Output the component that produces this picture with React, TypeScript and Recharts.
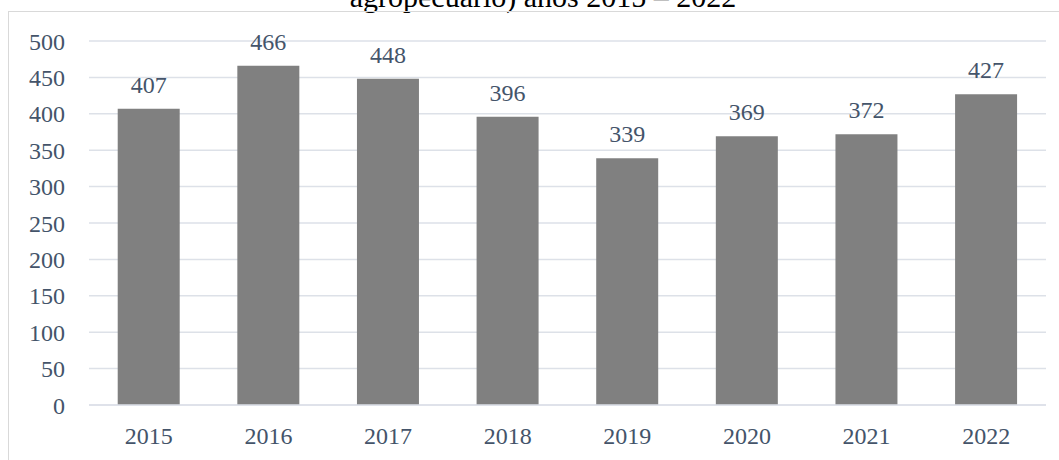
import { Bar, BarChart, CartesianGrid, LabelList, XAxis, YAxis } from "recharts";

const years = ["2015", "2016", "2017", "2018", "2019", "2020", "2021", "2022"];
const values = [407, 466, 448, 396, 339, 369, 372, 427];
const yTicks = [0, 50, 100, 150, 200, 250, 300, 350, 400, 450, 500];

const TEXT = "#44546a";
const FONT = "'Liberation Serif', 'Times New Roman', serif";
const FS = 24;

const rows = years.map((year, i) => ({ year, value: values[i] }));

export default function App() {
  return (
    <div
      style={{
        position: "fixed",
        top: 0,
        left: 0,
        width: 1059,
        height: 460,
        overflow: "hidden",
        background: "#fff",
        fontFamily: FONT,
      }}
    >
      {/* título recortado arriba, como en la imagen */}
      <svg width={1059} height={30} style={{ position: "absolute", left: 0, top: 0 }}>
        <text x={543} y={7} textAnchor="middle" fontSize={30} fontFamily={FONT} fill="#000">
          agropecuario) años 2015 – 2022
        </text>
      </svg>
      {/* marco del gráfico */}
      <div
        style={{
          position: "absolute",
          left: 8,
          top: 11,
          width: 1100,
          height: 500,
          borderLeft: "1px solid #d9d9d9",
          borderTop: "1px solid #d9d9d9",
        }}
      />
      <div style={{ position: "absolute", left: 0, top: 0 }}>
        <BarChart
          width={1059}
          height={460}
          data={rows}
          margin={{ top: 41, right: 13, bottom: 25, left: 29 }}
          barCategoryGap="24%"
        >
          <CartesianGrid vertical={false} stroke="#dde1e8" strokeWidth={1.5} />
          <XAxis
            dataKey="year"
            height={30}
            axisLine={{ stroke: "#dde1e8", strokeWidth: 1.5 }}
            tickLine={false}
            tickSize={0}
            tickMargin={22}
            tick={{ fill: TEXT, fontSize: FS, fontFamily: FONT }}
          />
          <YAxis
            width={60}
            domain={[0, 500]}
            ticks={yTicks}
            axisLine={false}
            tickLine={false}
            tickSize={0}
            tickMargin={24}
            tick={{ fill: TEXT, fontSize: FS, fontFamily: FONT }}
          />
          <Bar dataKey="value" fill="#808080" isAnimationActive={false}>
            <LabelList
              dataKey="value"
              position="top"
              offset={16}
              style={{ fill: TEXT, fontSize: FS, fontFamily: FONT }}
            />
          </Bar>
        </BarChart>
      </div>
    </div>
  );
}
